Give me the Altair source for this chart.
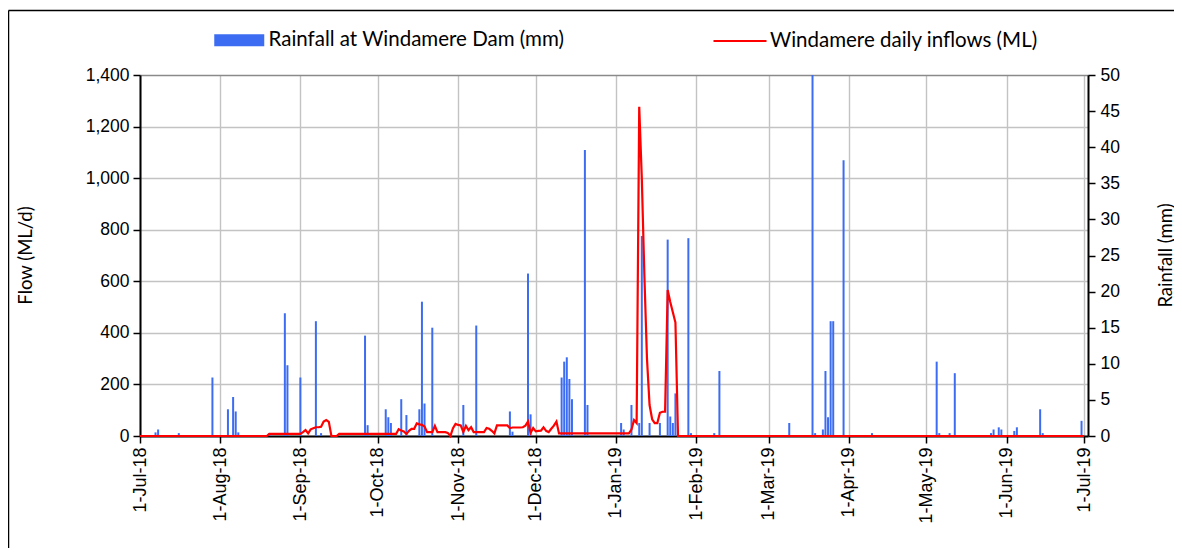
import altair as alt
import pandas as pd

RAIN = "Rainfall at Windamere Dam (mm)"
FLOW = "Windamere daily inflows (ML)"

# Daily rainfall (mm) on the days with rain
rain_dates = [
    "2018-07-07", "2018-07-08", "2018-07-16", "2018-07-29", "2018-08-04", "2018-08-06",
    "2018-08-07", "2018-08-08", "2018-08-20", "2018-08-26", "2018-08-27", "2018-09-01",
    "2018-09-07", "2018-09-09", "2018-09-26", "2018-09-27", "2018-10-04", "2018-10-05",
    "2018-10-06", "2018-10-10", "2018-10-12", "2018-10-17", "2018-10-18", "2018-10-19",
    "2018-10-22", "2018-11-03", "2018-11-08", "2018-11-21", "2018-11-22", "2018-11-28",
    "2018-11-29", "2018-12-11", "2018-12-12", "2018-12-13", "2018-12-14", "2018-12-15",
    "2018-12-20", "2018-12-21", "2019-01-03", "2019-01-04", "2019-01-07", "2019-01-10",
    "2019-01-11", "2019-01-14", "2019-01-18", "2019-01-21", "2019-01-22", "2019-01-23",
    "2019-01-24", "2019-01-29", "2019-01-30", "2019-02-08", "2019-02-10", "2019-03-09",
    "2019-03-18", "2019-03-19", "2019-03-22", "2019-03-23", "2019-03-24", "2019-03-25",
    "2019-03-26", "2019-03-30", "2019-04-10", "2019-05-05", "2019-05-06", "2019-05-10",
    "2019-05-12", "2019-05-26", "2019-05-27", "2019-05-29", "2019-05-30", "2019-06-04",
    "2019-06-05", "2019-06-14", "2019-06-15", "2019-06-30",
]
rain_mm = [
    0.5, 0.9, 0.4, 8.1, 3.7, 5.4,
    3.4, 0.5, 0.4, 17.0, 9.8, 8.1,
    15.9, 0.4, 13.9, 1.5, 3.7, 2.6,
    1.8, 5.1, 2.9, 3.7, 18.6, 4.5,
    15.0, 4.3, 15.3, 3.4, 0.6, 22.5,
    3.0, 8.1, 10.3, 10.9, 7.9, 5.1,
    39.6, 4.3, 1.8, 0.9, 4.3, 1.8,
    27.7, 1.8, 1.8, 27.2, 2.7, 1.8,
    5.9, 27.4, 0.4, 0.4, 9.0, 1.8,
    50.0, 0.4, 0.9, 9.0, 2.6, 15.9,
    15.9, 38.2, 0.4, 10.3, 0.4, 0.4,
    8.7, 0.4, 0.9, 1.2, 0.9, 0.7,
    1.2, 3.7, 0.4, 2.1,
]

# Daily inflow (ML/d) from 19-Aug-18 to 27-Jan-19; zero outside that window
flow_start = "2018-08-19"
flow_ml = [
    0,
    8, 8, 8, 8, 8, 8, 8, 8, 8, 8,
    8, 8, 8, 15, 23, 10, 26, 30, 34, 34,
    36, 56, 62, 55, 0, 0, 0, 8, 8, 8,
    8, 8, 8, 8, 8, 8, 8, 8, 8, 8,
    8, 8, 8, 8, 8, 8, 8, 8, 8, 8,
    26, 21, 18, 8, 20, 28, 28, 49, 45, 43,
    37, 15, 15, 15, 39, 15, 15, 15, 15, 12,
    0, 30, 47, 43, 41, 15, 39, 23, 34, 15,
    15, 15, 15, 15, 31, 28, 20, 10, 41, 41,
    41, 41, 41, 31, 33, 33, 33, 33, 34, 40,
    56, 12, 31, 18, 20, 21, 34, 20, 15, 28,
    40, 56, 10, 10, 10, 10, 10, 10, 10, 10,
    10, 10, 10, 10, 10, 10, 10, 10, 10, 10,
    10, 10, 10, 10, 10, 10, 10, 10, 10, 10,
    25, 62, 50, 1277, 1000, 620, 300, 120, 65, 50,
    50, 90, 94, 94, 566, 520, 480, 440, 0,
]
flow_edge_dates = ["2018-07-01", "2019-07-01"]
flow_edge_ml = [0, 0]

month_ticks = [(2018, m) for m in range(7, 13)] + [(2019, m) for m in range(1, 8)]
flow_ticks = [0, 200, 400, 600, 800, 1000, 1200, 1400]
rain_ticks = [0, 5, 10, 15, 20, 25, 30, 35, 40, 45, 50]

BLUE = "#3c6cf2"
RED = "#ff0000"
LABEL_FONT = "Liberation Sans"
TEXT_FONT = "Lato"

rain_df = pd.DataFrame({
    "date": [d + "T00:00:00" for d in rain_dates],
    "mm": rain_mm,
    "series": RAIN,
})
flow_days = pd.date_range(flow_start, periods=len(flow_ml), freq="D").strftime("%Y-%m-%dT00:00:00").tolist()
flow_df = pd.DataFrame({
    "date": [flow_edge_dates[0] + "T00:00:00"] + flow_days + [flow_edge_dates[1] + "T00:00:00"],
    "ml": [flow_edge_ml[0]] + flow_ml + [flow_edge_ml[1]],
    "series": FLOW,
})

x_scale = alt.Scale(domain=[alt.DateTime(year=2018, month=7, date=1),
                            alt.DateTime(year=2019, month=7, date=2, hours=12)],
                    padding=0, nice=False)
x_axis = alt.Axis(
    values=[alt.DateTime(year=y, month=m, date=1) for y, m in month_ticks],
    format="%-d-%b-%y", labelAngle=270, labelFont=LABEL_FONT, labelFontSize=18,
    labelColor="black", labelPadding=4, tickSize=7, tickWidth=1.5, tickColor="black",
    domainColor="black", domainWidth=2, grid=True, gridColor="#c3c3c3", gridWidth=1.4,
    title=None,
)
x_enc = alt.X("date:T", scale=x_scale, axis=x_axis)

bars = alt.Chart(rain_df).mark_bar(size=2, clip=True).encode(
    x=x_enc,
    y=alt.Y("mm:Q", scale=alt.Scale(domain=[0, 50], padding=0, nice=False),
            axis=alt.Axis(orient="right", values=rain_ticks, format="d", grid=False, title="Rainfall (mm)",
                          labelFont=LABEL_FONT, labelFontSize=17.5, labelColor="black",
                          labelPadding=5, tickSize=7, tickWidth=1.5, tickColor="black",
                          domainColor="black", domainWidth=2,
                          titleFont=TEXT_FONT, titleFontSize=18.5, titleFontWeight="normal",
                          titleColor="black", titleAngle=270, titleX=77, titleY=180,
                          titleAlign="center", titleBaseline="middle")),
    fill=alt.Fill("series:N", scale=alt.Scale(domain=[RAIN], range=[BLUE]),
                  legend=alt.Legend(orient="none", legendX=89, legendY=-45, title=None,
                                    symbolType="M-2.5,-0.6H2.5V0.6H-2.5Z", symbolSize=400,
                                    symbolStrokeWidth=0, labelOffset=19, labelLimit=0,
                                    labelFont=TEXT_FONT, labelFontSize=20.5, labelColor="black")),
)

line = alt.Chart(flow_df).mark_line(strokeWidth=2.2).encode(
    x=x_enc,
    y=alt.Y("ml:Q", scale=alt.Scale(domain=[0, 1400], padding=0, nice=False),
            axis=alt.Axis(orient="left", values=flow_ticks, format=",.0f", grid=True,
                          gridColor={"condition": {"test": "datum.value === 1400", "value": "#8a8a8a"},
                                     "value": "#c3c3c3"},
                          gridWidth=1.4, title="Flow (ML/d)",
                          labelFont=LABEL_FONT, labelFontSize=17.5, labelColor="black",
                          labelPadding=4, tickSize=7, tickWidth=1.5, tickColor="black",
                          domainColor="black", domainWidth=2,
                          titleFont=TEXT_FONT, titleFontSize=18.5, titleFontWeight="normal",
                          titleColor="black", titleAngle=270, titleX=-115, titleY=180,
                          titleAlign="center", titleBaseline="middle")),
    stroke=alt.Stroke("series:N", scale=alt.Scale(domain=[FLOW], range=[RED]),
                      legend=alt.Legend(orient="none", legendX=572, legendY=-62, title=None,
                                        symbolType="stroke", symbolSize=2809,
                                        symbolStrokeWidth=2.2, labelOffset=2, labelLimit=0,
                                        labelFont=TEXT_FONT, labelFontSize=20.5, labelColor="black")),
)

frame = pd.DataFrame({"k": [0]})
border_top = alt.Chart(frame).mark_rule(color="black", strokeWidth=1.5).encode(
    x=alt.value(-131.5), x2=alt.value(1034), y=alt.value(-64.5))
border_left = alt.Chart(frame).mark_rule(color="black", strokeWidth=1.5).encode(
    x=alt.value(-131.5), y=alt.value(-64.5), y2=alt.value(480))

chart = alt.layer(bars, line, border_top, border_left).resolve_scale(
    y="independent"
).properties(
    width=948, height=361,
    autosize=alt.AutoSizeParams(type="none"),
    padding={"left": 132, "top": 67, "right": 86, "bottom": 112},
).configure_view(stroke="#8a8a8a", strokeWidth=2).configure(background="white")

chart.save("out.html", embed_options={"renderer": "svg", "actions": False})
